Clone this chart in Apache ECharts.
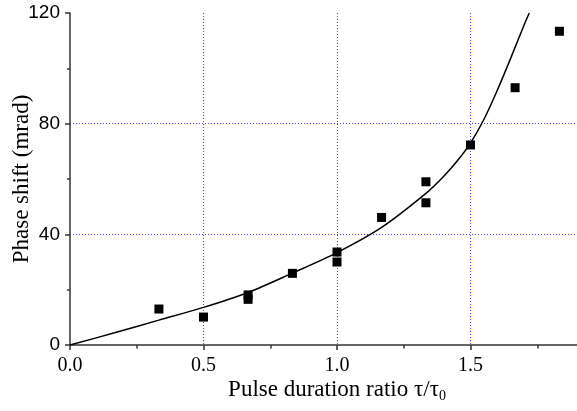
<!DOCTYPE html>
<html><head><meta charset="utf-8">
<script src="https://cdn.jsdelivr.net/npm/echarts@6/dist/echarts.min.js"></script>
<style>html,body{margin:0;padding:0;background:#fff}#c{width:577px;height:411px}</style>
</head><body><div id="c"></div>
<script>
var pointX = [0.333, 0.5, 0.667, 0.667, 0.833, 1.0, 1.0, 1.167, 1.333, 1.333, 1.5, 1.667, 1.833];
var pointY = [13.0, 10.1, 18.1, 16.5, 25.9, 33.6, 30.0, 46.1, 59.0, 51.4, 72.3, 93.0, 113.4];
var curveX = [0, 0.167, 0.333, 0.5, 0.667, 0.833, 1.0, 1.167, 1.333, 1.4, 1.45, 1.5, 1.55, 1.6, 1.65, 1.7, 1.72];
var curveY = [0, 4.4, 9.0, 13.6, 19.0, 26.0, 33.4, 42.5, 54.8, 61.0, 66.5, 73.0, 81.5, 92.0, 103.5, 115.5, 120];
var xTicks = ['0.0', '0.5', '1.0', '1.5'];
var yTicks = ['0', '40', '80', '120'];

var chart = echarts.init(document.getElementById('c'), null, {renderer: 'canvas'});
var grid = '#3c3cff';
chart.setOption({
  animation: false,
  grid: {left: 70, top: 13, bottom: 66, width: 534, containLabel: false, outerBoundsMode: 'none'},
  xAxis: {
    type: 'value', min: 0, max: 2.0, interval: 0.5,
    name: 'Pulse duration ratio τ/τ{s|0}',
    nameLocation: 'middle', nameGap: 32, nameMoveOverlap: false,
    nameTextStyle: {fontFamily: 'Liberation Serif', fontSize: 23, color: '#000',
      rich: {s: {fontFamily: 'Liberation Serif', fontSize: 14, color: '#000', verticalAlign: 'bottom', padding: [12, 0, 0, 0]}}},
    axisLine: {show: true, lineStyle: {color: '#333', width: 1.5}},
    axisTick: {show: true, inside: false, length: 5, lineStyle: {color: '#333', width: 1.5}},
    minorTick: {show: true, splitNumber: 2, length: 3.5, lineStyle: {color: '#333', width: 1.5}},
    axisLabel: {fontFamily: 'Liberation Serif', fontSize: 20, color: '#000', margin: 11,
      formatter: function (v) { var i = Math.round(v / 0.5); return (Math.abs(v - i * 0.5) < 1e-9 && i < xTicks.length) ? xTicks[i] : ''; }},
    splitLine: {show: true, showMinLine: false, lineStyle: {color: grid, type: [1, 2], width: 1}}
  },
  yAxis: {
    type: 'value', min: 0, max: 120, interval: 40,
    name: 'Phase shift (mrad)',
    nameLocation: 'middle', nameGap: 37, nameMoveOverlap: false,
    nameTextStyle: {fontFamily: 'Liberation Serif', fontSize: 23, color: '#000'},
    axisLine: {show: true, lineStyle: {color: '#333', width: 1.5}},
    axisTick: {show: true, inside: false, length: 5, lineStyle: {color: '#333', width: 1.5}},
    minorTick: {show: true, splitNumber: 2, length: 3, lineStyle: {color: '#333', width: 1.5}},
    axisLabel: {fontFamily: 'Liberation Sans', fontSize: 19, color: '#000', margin: 10,
      formatter: function (v) { var i = Math.round(v / 40); return yTicks[i] || ''; }},
    splitLine: {show: true, showMinLine: false, showMaxLine: false, lineStyle: {color: grid, type: [1, 2], width: 1}}
  },
  series: [
    {
      type: 'line', data: curveX.map(function (x, i) { return [x, curveY[i]]; }),
      smooth: 0.3, showSymbol: false, clip: true,
      lineStyle: {color: '#000', width: 1.5}, z: 3
    },
    {
      type: 'scatter', data: pointX.map(function (x, i) { return [x, pointY[i]]; }),
      symbol: 'rect', symbolSize: 9, itemStyle: {color: '#000', opacity: 1}, z: 4
    }
  ]
});
</script></body></html>
